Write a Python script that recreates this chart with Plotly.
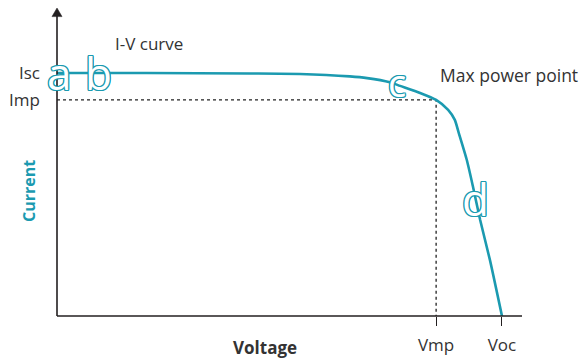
import plotly.graph_objects as go

# I-V characteristic of a solar cell (normalised units: Isc = 1, Voc = 1)
voltage = [0.0, 0.20, 0.434, 0.546, 0.658, 0.697, 0.748, 0.771, 0.816, 0.852,
           0.879, 0.894, 0.903, 0.921, 0.935, 0.951, 0.973, 1.0]
current = [1.0, 1.0, 0.998, 0.996, 0.986, 0.979, 0.962, 0.947, 0.918, 0.889,
           0.848, 0.807, 0.753, 0.642, 0.531, 0.395, 0.230, 0.0]

isc, imp = 1.0, 0.889
vmp, voc = 0.852, 1.0
x_ticks = ["Vmp", "Voc"]
y_ticks = ["Isc", "Imp"]

# curve region markers: letter, voltage, current, size
region_letters = ["a", "b", "c", "d"]
region_v = [0.004, 0.094, 0.763, 0.94]
region_i = [1.0, 1.0, 0.965, 0.48]
region_size = [44, 44, 38, 44]

TEAL = "#1b9ab0"
INK = "#231f20"
FONT = "Open Sans"

fig = go.Figure()

# reference lines to the maximum power point
fig.add_trace(go.Scatter(x=[0, vmp, vmp], y=[imp, imp, 0], mode="lines",
                         line=dict(color="#222222", width=1.3, dash="dot"),
                         hoverinfo="skip", showlegend=False))

fig.add_trace(go.Scatter(x=voltage, y=current, mode="lines",
                         line=dict(color=TEAL, width=2.6, shape="spline", smoothing=0.6),
                         showlegend=False))

x_max = 1.045
y_max = 1.2675

fig.update_layout(
    width=585, height=358,
    margin=dict(l=57, r=63, t=8, b=42),
    paper_bgcolor="white", plot_bgcolor="white",
    font=dict(family=FONT, size=17, color="#333333"),
    xaxis=dict(range=[0, x_max], showgrid=False, zeroline=False, showline=False,
               automargin=False,
               tickvals=[vmp, voc], ticktext=x_ticks, ticks="outside",
               ticklen=9, tickwidth=1.4, tickcolor=INK, ticklabelstandoff=5,
               tickfont=dict(size=17, color="#333333")),
    yaxis=dict(range=[0, y_max], showgrid=False, zeroline=False, showline=False,
               automargin=False,
               tickvals=[isc, imp], ticktext=y_ticks, ticks="",
               ticklabelstandoff=16,
               tickfont=dict(size=17, color="#333333")),
)

# axes with arrow on the current axis
fig.add_shape(type="line", xref="paper", yref="paper", x0=0, x1=1, y0=0, y1=0,
              line=dict(color=INK, width=1.6))
fig.add_shape(type="line", xref="paper", yref="paper", x0=0, x1=0, y0=0, y1=0.975,
              line=dict(color=INK, width=1.6))
fig.add_shape(type="path", xref="paper", yref="paper",
              path="M -0.0108,0.972 L 0.0108,0.972 L 0,1.0 Z",
              fillcolor=INK, line=dict(color=INK, width=0.5))

fig.add_annotation(text="<b>Voltage</b>", xref="paper", yref="paper",
                   x=(265 - 57) / 465, y=-(347 - 316) / 308,
                   xanchor="center", yanchor="middle", showarrow=False,
                   font=dict(size=17, color="#333333"))
fig.add_annotation(text="<b>Current</b>", xref="paper", yref="paper",
                   x=-(57 - 29) / 465, y=(316 - 191) / 308, textangle=-90,
                   xanchor="center", yanchor="middle", showarrow=False,
                   font=dict(size=16, color=TEAL))
fig.add_annotation(text="I-V curve", x=0.125, y=1.122, xanchor="left",
                   yanchor="middle", showarrow=False,
                   font=dict(size=17, color="#333333"))
fig.add_annotation(text="Max power point", x=0.857, y=0.99, xanchor="left",
                   yanchor="middle", showarrow=False,
                   font=dict(size=17.5, color="#333333"))

outline = ", ".join(f"{dx}px {dy}px 0 {TEAL}" for dx, dy in
                    [(-1, -1), (1, -1), (-1, 1), (1, 1), (0, 1.2), (0, -1.2), (1.2, 0), (-1.2, 0)])
for letter, v, i, s in zip(region_letters, region_v, region_i, region_size):
    fig.add_annotation(text=letter, x=v, y=i, showarrow=False,
                       xanchor="center", yanchor="middle",
                       font=dict(family=FONT, size=s, color="white", shadow=outline))

fig.write_html("out.html")
